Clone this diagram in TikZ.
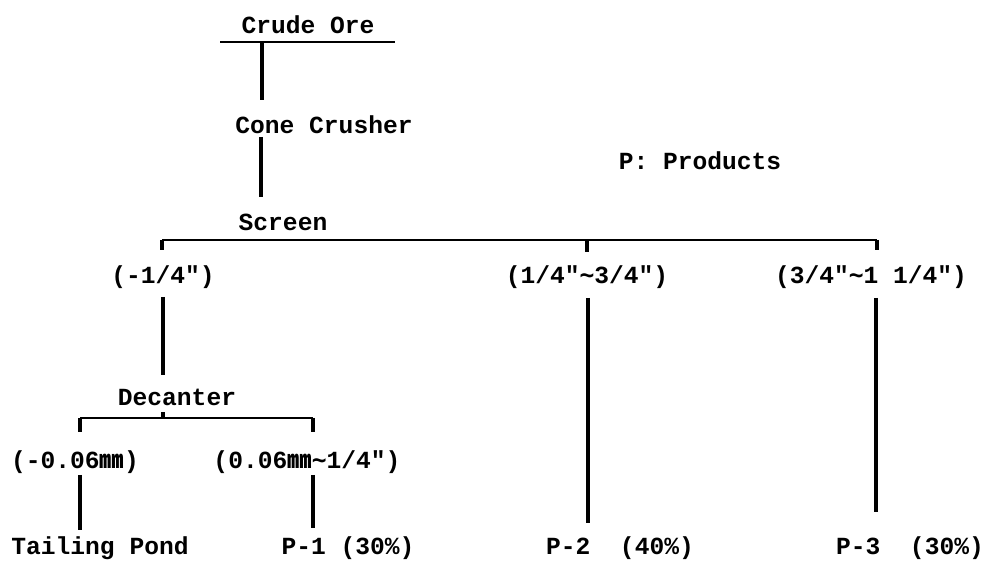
\documentclass[tikz,border=0pt]{standalone}
\usepackage{fontspec}
\setmonofont{Liberation Mono}
\newfontfamily\symfont{DejaVu Sans Mono}
\newfontfamily\cjk{Noto Sans CJK SC}
\usepackage{tikz}
\newcommand\wavedash{{\symfont\bfseries ∼}}
\newcommand\mmunit{{\cjk ㎜}}

\begin{document}
\begin{tikzpicture}[x=0.02cm,y=-0.02cm,
  lbl/.style={font=\fontsize{14}{16}\selectfont\ttfamily\bfseries,inner sep=1pt},
  bar/.style={line width=0.8pt},
  stem/.style={line width=1.8pt}]
  \useasboundingbox (0,0) rectangle (1001,567);
  % labels
  \node[lbl] (ore) at (308,25) {Crude Ore};
  \node[lbl] (crusher) at (324,125) {Cone Crusher};
  \node[lbl] (screen) at (283,222) {Screen};
  \node[lbl] (prod) at (700,161) {P: Products};
  \node[lbl] (fine) at (163,277) {(-1/4")};
  \node[lbl] (mid) at (587,277) {(1/4"\wavedash3/4")};
  \node[lbl] (coarse) at (871,277) {(3/4"\wavedash1 1/4")};
  \node[lbl] (decanter) at (177,397) {Decanter};
  \node[lbl] (slime) at (75,462) {(-0.06\mmunit)};
  \node[lbl] (sand) at (307,462) {(0.06\mmunit\wavedash1/4")};
  \node[lbl] (pond) at (100,548) {Tailing Pond};
  \node[lbl] (p1) at (348,548) {P-1 (30\%)};
  \node[lbl] (p2) at (620,548) {P-2\ \ (40\%)};
  \node[lbl] (p3) at (910,548) {P-3\ \ (30\%)};
  % crude ore to screen
  \coordinate (oreL) at (220,42); \coordinate (oreR) at (395,42);
  \draw[bar] (oreL) -- (oreR);
  \coordinate (s1a) at (262,42); \coordinate (s1b) at (262,100);
  \draw[stem] (s1a) -- (s1b);
  \coordinate (s2a) at (261,137); \coordinate (s2b) at (261,197);
  \draw[stem] (s2a) -- (s2b);
  % screen splits
  \coordinate (scrL) at (162,240); \coordinate (scrM) at (587,240); \coordinate (scrR) at (877,240);
  \draw[bar] (scrL) -- (scrR);
  \draw[stem] (scrL) -- ++(0,10);
  \draw[stem] (scrM) -- ++(0,12);
  \draw[stem] (scrR) -- ++(0,10);
  \coordinate (f1) at (163,297); \coordinate (f2) at (163,375);
  \draw[stem] (f1) -- (f2);
  \coordinate (m1) at (588,298); \coordinate (m2) at (588,523);
  \draw[stem] (m1) -- (m2);
  \coordinate (c1) at (876,298); \coordinate (c2) at (876,512);
  \draw[stem] (c1) -- (c2);
  % decanter splits
  \coordinate (decL) at (80,418); \coordinate (decM) at (163,418); \coordinate (decR) at (313,418);
  \draw[bar] (decL) -- (decR);
  \draw[stem] (decM) -- ++(0,-6);
  \draw[stem] (decL) -- ++(0,14);
  \draw[stem] (decR) -- ++(0,14);
  \coordinate (t1) at (80,475); \coordinate (t2) at (80,530);
  \draw[stem] (t1) -- (t2);
  \coordinate (q1) at (313,475); \coordinate (q2) at (313,528);
  \draw[stem] (q1) -- (q2);
\end{tikzpicture}
\end{document}
